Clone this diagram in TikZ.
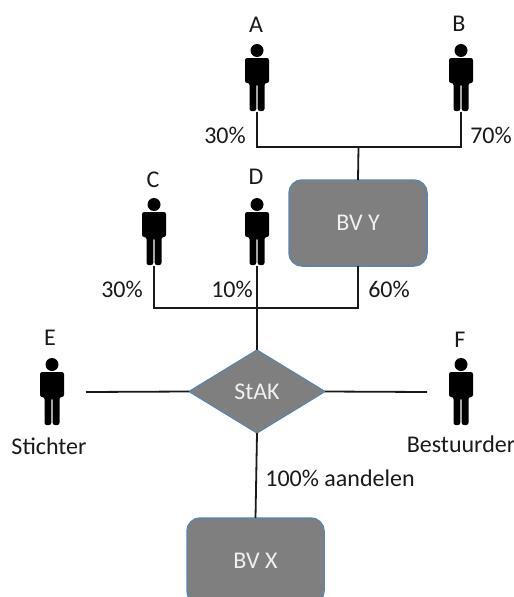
\documentclass[tikz,border=0pt]{standalone}
\usepackage{fontspec}
\setmainfont{Carlito}
\usetikzlibrary{shapes.geometric,calc}
\definecolor{boxgray}{HTML}{7F7F7F}
\definecolor{boxedge}{HTML}{5B84AE}
\definecolor{labelink}{HTML}{1A1A1A}
\tikzset{
  person/.pic={
    \fill[black] (0,-27.5) circle[radius=6.5];
    \fill[black,rounded corners=2.2pt] (-12,-20) -- (12,-20) -- (12,5) -- (7.5,5) -- (7.5,33) -- (0.7,33) -- (0.7,6) -- (-0.7,6) -- (-0.7,33) -- (-7.5,33) -- (-7.5,5) -- (-12,5) -- cycle;
    \node[minimum width=24pt,minimum height=68pt,inner sep=0pt,outer sep=0pt] (-body) at (0,0) {};
  },
  bvbox/.style={draw=boxedge,line width=1.5pt,fill=boxgray,rounded corners=13pt,text=white!94!black,font=\fontsize{24}{26}\selectfont,inner sep=0pt,outer sep=0pt},
  stakdiamond/.style={diamond,draw=boxedge,line width=1.2pt,fill=boxgray,text=white!94!black,font=\fontsize{24}{26}\selectfont,aspect=1.64,inner sep=0pt,outer sep=0pt,minimum width=136pt,minimum height=83pt},
  tag/.style={text=labelink,font=\fontsize{24}{26}\selectfont,inner sep=0pt},
  wire/.style={line width=1.8pt,draw=black!90}
}
\begin{document}
\begin{tikzpicture}[x=1pt,y=-1pt]
\useasboundingbox (0,0) rectangle (514,597);
\clip (0,0) rectangle (514,597);
% people
\pic (A) at (257,78) {person};
\pic (B) at (461,78) {person};
\pic (C) at (154,232) {person};
\pic (D) at (257,232) {person};
\pic (E) at (52,392) {person};
\pic (F) at (461,392) {person};
% organisations
\node[bvbox,minimum width=138pt,minimum height=86pt] (Y) at (358,223) {BV Y};
\node[bvbox,minimum width=137pt,minimum height=86pt] (X) at (255.5,561) {BV X};
% junctions
\coordinate (jt) at (358.5,147);
\coordinate (jb) at (257,308);
\coordinate (El) at (86,392);
\coordinate (Fr) at (427,392);
% connectors
\draw[wire] (A-body.south) -- (A-body.south |- jt) -- (B-body.south |- jt) -- (B-body.south);
\draw[wire] (jt) -- (Y.north);
\draw[wire] (C-body.south) -- (C-body.south |- jb) -- (Y.south |- jb) -- (Y.south);
\node[stakdiamond] (S) at (257,391.5) {StAK};
\draw[wire] (D-body.south) -- (S.north);
\draw[wire] (El) -- (S.west);
\draw[wire] (S.east) -- (Fr);
\draw[wire] (S.south) -- (X.north);
% labels
\node[tag] (la) at (256,25) {A};
\node[tag] (lb) at (459,24) {B};
\node[tag] (lc) at (153,180) {C};
\node[tag] (ld) at (256,177) {D};
\node[tag] (le) at (50,338) {E};
\node[tag] (lf) at (460,340) {F};
\node[tag] (pa) at (225,135) {30\%};
\node[tag] (pb) at (491,135) {70\%};
\node[tag] (pc) at (122,289) {30\%};
\node[tag] (pd) at (232,289) {10\%};
\node[tag] (py) at (389,289) {60\%};
\node[tag] (st) at (49,446) {Stichter};
\node[tag] (be) at (461,444) {Bestuurder};
\node[tag] (al) at (340,478) {100\% aandelen};
\end{tikzpicture}
\end{document}
